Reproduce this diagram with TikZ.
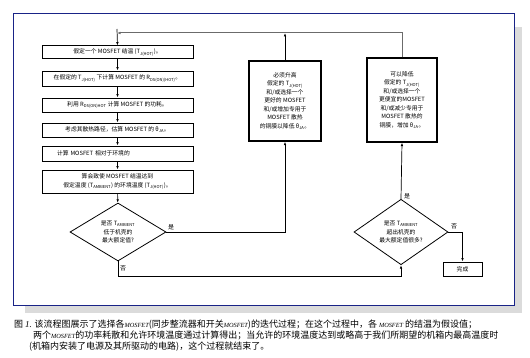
\documentclass[tikz,border=0pt]{standalone}
\usepackage{fontspec}
\setmainfont{Liberation Sans}
\newfontfamily\cjk{Noto Sans CJK SC}
\newfontfamily\capserif{Liberation Serif}
\usetikzlibrary{shapes.geometric,arrows.meta}
\newcommand{\mosit}{{\capserif\itshape\fontsize{6.3}{8}\selectfont MOSFET}}

\begin{document}
\begin{tikzpicture}[x=1pt,y=1pt,
  stepbox/.style={draw=black,line width=1pt,fill=white,inner sep=0pt,align=center,
    font=\cjk\fontsize{5.8}{8.5}\selectfont},
  testbox/.style={diamond,draw=black,line width=0.8pt,fill=white,inner sep=0pt,align=center,
    font=\cjk\fontsize{5.8}{8.5}\selectfont},
  lbl/.style={anchor=west,inner sep=0pt,font=\cjk\fontsize{6}{7}\selectfont},
  captext/.style={anchor=base west,inner sep=0pt,font=\cjk\fontsize{9}{10}\selectfont},
  flow/.style={draw=black,line width=0.7pt,-{Latex[length=3.5pt,width=2.6pt]}}]
\definecolor{frameColor}{RGB}{25,35,135}
\definecolor{shadowColor}{gray}{0.86}
\definecolor{loopColor}{gray}{0.42}
\path[use as bounding box,fill=white] (0,0) rectangle (530,357);

% frame with shadow
\path[fill=shadowColor] ( 25.00, 44.00) rectangle (522.00,330.00);
\path[draw=frameColor,fill=white,line width=1pt] ( 13.00, 52.00) rectangle (514.00,343.00);

% left column
\node[stepbox,minimum width=151,minimum height=13] (assume) at (117.50,304.50) {假定一个 MOSFET 结温 (T\textsubscript{J(HOT)})。};
\node[stepbox,minimum width=151,minimum height=15] (rdson) at (117.50,278.50) {在假定的 T\textsubscript{J(HOT)} 下计算 MOSFET 的 R\textsubscript{DS(ON)(HOT)}。};
\node[stepbox,minimum width=151,minimum height=14] (power) at (117.50,252.00) {利用 R\textsubscript{DS(ON)HOT} 计算 MOSFET 的功耗。};
\node[stepbox,minimum width=151,minimum height=14] (theta) at (117.50,227.00) {考虑其散热路径，估算 MOSFET 的 θ\textsubscript{JA}。};
\node[stepbox,minimum height=15,text width=121,inner xsep=15,align=left] (rise) at (117.50,203.50) {计算 MOSFET 相对于环境的};
\node[stepbox,minimum width=151,minimum height=23] (ambient) at (117.50,175.50) {算会致使 MOSFET 结温达到\\假定温度 (T\textsubscript{AMBIENT}) 的环境温度 (T\textsubscript{J(HOT)})。};
\node[testbox,minimum width=96,minimum height=58] (ambLow) at (118.00,125.00) {是否 T\textsubscript{AMBIENT}\\低于机壳的\\最大额定值?};

% right boxes
\node[stepbox,line width=1.3pt,minimum width=72,minimum height=80] (raise) at (285.00,256.00) {必须升高\\假定的 T\textsubscript{J(HOT)}\\和/或选择一个\\更好的 MOSFET\\和/或增加专用于\\MOSFET 散热\\的铜膜以降低 θ\textsubscript{JA}。};
\node[stepbox,line width=1.3pt,minimum width=70,minimum height=84] (lower) at (402.00,257.00) {可以降低\\假定的 T\textsubscript{J(HOT)}\\和/或选择一个\\更便宜的MOSFET\\和/或减少专用于\\MOSFET 散热的\\铜膜，增加 θ\textsubscript{JA}。};
\node[testbox,minimum width=94,minimum height=60] (ambHigh) at (401.00,125.00) {是否 T\textsubscript{AMBIENT}\\超出机壳的\\最大额定值很多?};
\node[stepbox,minimum width=39,minimum height=14] (done) at (462.50, 88.00) {完成};

% connectors
\coordinate (loopTop) at (117.00,328.00);
\coordinate (loopEnd) at (117.00,324.00);
\coordinate (noTurn) at (118.00, 81.00);
\draw[flow] (loopTop) -- (assume.north);
\draw[flow] (assume) -- (rdson);
\draw[flow] (rdson) -- (power);
\draw[flow] (power) -- (theta);
\draw[flow] (theta) -- (rise);
\draw[flow] (rise) -- (ambient);
\draw[flow] (ambient) -- (ambLow);
\draw[flow] (ambLow.east) -| (raise.south);
\draw[flow] (ambLow.south) -- (noTurn) -| (ambHigh.south);
\draw[flow] (ambHigh.north) -- (lower.south);
\draw[flow] (ambHigh.east) -| (done.north);
\draw[flow] (raise.north) -- (raise.north |- loopEnd);
\draw[flow,draw=loopColor,line width=1pt] (lower.north) |- (loopEnd);

% branch labels
\node[lbl] (yesLow) at (168.00,130.00) {是};
\node[lbl] (noLow) at (120.00, 89.00) {否};
\node[lbl] (yesHigh) at (404.00,161.00) {是};
\node[lbl] (noHigh) at (451.00,131.00) {否};

% caption
\node[captext] (cap1) at ( 14.00, 30.00) {图 {\capserif\itshape 1.} 该流程图展示了选择各\mosit(同步整流器和开关\mosit)的迭代过程；在这个过程中，各 \mosit{} 的结温为假设值；};
\node[captext] (cap2) at ( 33.00, 19.00) {两个\mosit{}的功率耗散和允许环境温度通过计算得出；当允许的环境温度达到或略高于我们所期望的机箱内最高温度时};
\node[captext] (cap3) at ( 29.00,  8.00) {(机箱内安装了电源及其所驱动的电路)，这个过程就结束了。};
\end{tikzpicture}
\end{document}
